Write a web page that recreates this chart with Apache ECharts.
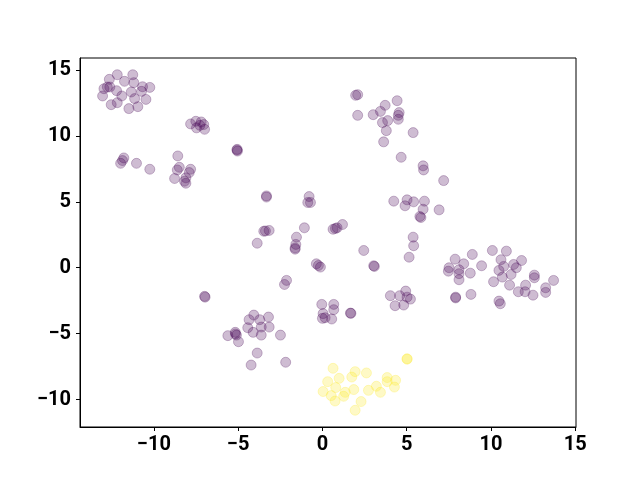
<!DOCTYPE html>
<html>
<head>
<meta charset="utf-8">
<script src="https://cdn.jsdelivr.net/npm/echarts@6/dist/echarts.min.js"></script>
<style>
  html, body { margin: 0; padding: 0; background: #fff; }
  #chart { width: 640px; height: 480px; }
</style>
</head>
<body>
<div id="chart"></div>
<script>
// tick values
const xTicks = [-10, -5, 0, 5, 10, 15];
const yTicks = [-10, -5, 0, 5, 10, 15];

// class 0 (purple) points [x, y]
const purplePoints = [
  [-12.17, 14.64], [-11.25, 14.64], [-12.64, 14.29], [-11.74, 14.14], [-11.19, 14.04],
  [-12.76, 13.71], [-12.96, 13.58], [-12.61, 13.71], [-10.67, 13.73], [-10.24, 13.68],
  [-12.21, 13.43], [-11.34, 13.33], [-10.73, 13.38], [-13.04, 13.03], [-11.9, 13.03],
  [-11.14, 12.83], [-10.47, 12.77], [-12.17, 12.52], [-12.53, 12.37], [-10.95, 12.22],
  [-11.48, 12.07],
  [-7.82, 10.91], [-7.51, 11.11], [-7.19, 11.06], [-7.04, 10.86], [-7.47, 10.61],
  [-6.99, 10.5], [-7.27, 10.8],
  [-5.06, 8.98], [-5.04, 8.85], [-5.07, 8.92],
  [-11.78, 8.33], [-11.86, 8.13], [-11.97, 7.92], [-11.03, 7.92], [-10.24, 7.47],
  [-8.58, 8.48], [-8.49, 7.62], [-8.61, 7.42], [-7.82, 7.47], [-7.9, 7.22],
  [-8.77, 6.77], [-8.1, 6.82], [-8.18, 6.56], [-8.1, 6.41],
  [1.97, 13.08], [2.09, 13.13], [4.43, 12.67], [3.72, 12.32], [3.44, 11.86],
  [3.01, 11.61], [2.09, 11.56], [4.55, 11.77], [4.5, 11.56], [4.5, 11.26],
  [3.87, 11.16], [3.56, 11.01], [3.79, 10.4], [5.38, 10.25], [3.63, 9.55],
  [4.67, 8.38], [5.97, 7.73], [6.0, 7.42], [7.19, 6.61],
  [-3.32, 5.45], [-3.32, 5.36], [-0.79, 5.4], [-0.87, 4.95], [-0.71, 4.95],
  [4.23, 5.05], [5.02, 5.15], [4.9, 4.7], [5.41, 5.0], [6.05, 5.05],
  [5.97, 4.44], [6.92, 4.39], [5.78, 3.89], [5.84, 3.81],
  [-3.48, 2.77], [-3.16, 2.83], [-3.38, 2.79], [-1.07, 3.03], [0.63, 2.92],
  [0.87, 3.03], [0.77, 2.98], [1.19, 3.28], [-1.54, 2.32], [-3.87, 1.86],
  [-1.58, 1.77], [-1.62, 1.41], [-1.62, 1.5], [5.38, 2.32], [5.41, 1.67],
  [2.45, 1.31], [5.14, 0.8], [-0.36, 0.3], [-0.12, 0.05], [-0.24, 0.17],
  [3.04, 0.15], [3.08, 0.1], [-2.13, -0.96], [-2.25, -1.27], [-6.99, -2.17],
  [-6.96, -2.23],
  [4.03, -2.12], [4.58, -2.12], [4.94, -1.77], [5.02, -2.23], [5.22, -2.38],
  [4.31, -2.88], [4.82, -2.83],
  [10.08, 1.31], [10.91, 1.26], [8.89, 1.01], [7.87, 0.65], [8.38, 0.3],
  [10.59, 0.61], [11.81, 0.55], [9.44, 0.15], [10.75, 0.1], [11.34, 0.25],
  [11.5, 0.0], [7.51, 0.0], [7.47, -0.26], [8.1, -0.15], [8.1, -0.45],
  [8.1, -0.91], [8.77, -0.41], [10.47, -0.2], [10.67, -0.71], [11.19, -0.51],
  [12.57, -0.56], [12.57, -0.76], [13.71, -0.96], [10.15, -1.06], [11.1, -1.32],
  [12.05, -1.32], [13.24, -1.52], [11.62, -1.82], [12.02, -1.82], [12.49, -2.08],
  [13.24, -1.87], [7.9, -2.23], [7.9, -2.29], [8.81, -2.02], [10.47, -2.53],
  [10.55, -2.73],
  [-0.04, -2.78], [0.67, -2.78], [0.67, -3.18], [0.04, -3.48], [0.0, -3.84],
  [0.16, -3.79], [0.55, -3.89], [1.66, -3.44], [1.69, -3.46],
  [-4.07, -3.59], [-3.2, -3.74], [-4.35, -3.94], [-3.72, -3.94], [-4.43, -4.55],
  [-3.63, -4.5], [-3.16, -4.5], [-4.11, -4.9], [-3.63, -5.11], [-5.61, -5.15],
  [-5.17, -4.9], [-5.1, -5.11], [-5.16, -5.02], [-4.98, -5.61], [-2.49, -5.11],
  [-3.87, -6.47], [-4.23, -7.38], [-2.18, -7.17]
];

// class 1 (yellow) points [x, y]
const yellowPoints = [
  [0.63, -7.63], [0.31, -8.64], [0.99, -8.39], [1.94, -7.88], [1.74, -8.29],
  [2.61, -7.98], [0.04, -9.39], [0.79, -9.09], [0.52, -9.7], [0.75, -10.11],
  [1.35, -9.45], [1.26, -9.75], [1.86, -9.24], [2.73, -9.3], [3.2, -8.99],
  [3.44, -9.45], [3.84, -8.33], [3.84, -8.64], [4.34, -8.54], [4.27, -9.05],
  [2.29, -10.15], [1.94, -10.81], [5.02, -6.94], [5.02, -6.9]
];

const chart = echarts.init(document.getElementById('chart'));

const minusFmt = (v) => String(v).replace('-', '\u2212');
const labelStyle = {
  color: '#000',
  fontFamily: 'Roboto',
  fontWeight: 'bold',
  fontSize: 20
};

function pointSeries(data, rgb) {
  return {
    type: 'scatter',
    data: data,
    symbol: 'circle',
    symbolSize: 10,
    itemStyle: {
      color: 'rgba(' + rgb + ',0.33)',
      borderColor: 'rgba(' + rgb + ',0.33)',
      borderWidth: 1
    },
    emphasis: { disabled: true },
    animation: false
  };
}

chart.setOption({
  animation: false,
  grid: {
    left: 80,
    right: 64,
    top: 58,
    bottom: 53,
    show: true,
    borderColor: '#000',
    borderWidth: 1
  },
  xAxis: {
    type: 'value',
    min: -14.38,
    max: 15.04,
    splitLine: { show: false },
    axisLine: { show: true, onZero: false, lineStyle: { color: '#000', width: 1 } },
    axisTick: { show: true, length: 4, customValues: xTicks, lineStyle: { color: '#000' } },
    axisLabel: Object.assign({ margin: 8, customValues: xTicks, formatter: minusFmt }, labelStyle)
  },
  yAxis: {
    type: 'value',
    min: -12.08,
    max: 15.91,
    splitLine: { show: false },
    axisLine: { show: true, onZero: false, lineStyle: { color: '#000', width: 1 } },
    axisTick: { show: true, length: 4, customValues: yTicks, lineStyle: { color: '#000' } },
    axisLabel: Object.assign({ margin: 9, customValues: yTicks, formatter: minusFmt }, labelStyle)
  },
  series: [
    pointSeries(purplePoints, '68,1,84'),
    pointSeries(yellowPoints, '253,231,37')
  ]
});
</script>
</body>
</html>
